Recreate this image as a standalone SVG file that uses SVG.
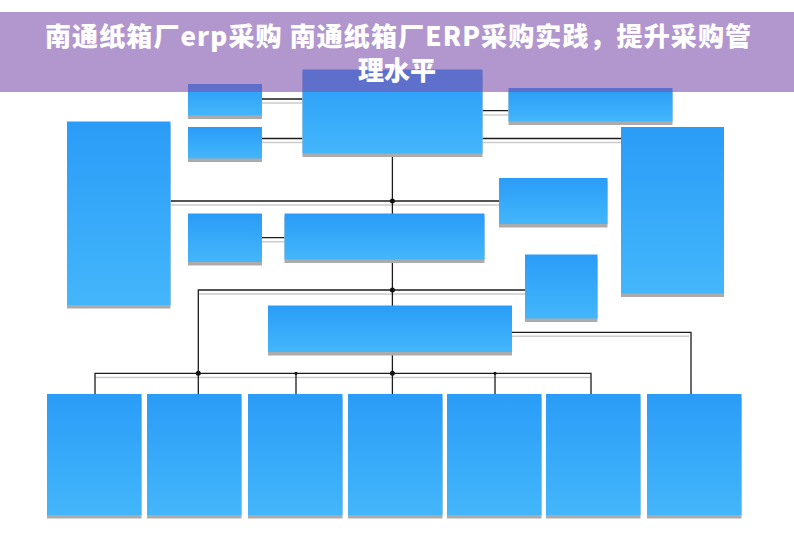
<svg xmlns="http://www.w3.org/2000/svg" width="794" height="559" viewBox="0 0 794 559">
<defs>
<linearGradient id="g" x1="0" y1="0" x2="0" y2="1">
<stop offset="0" stop-color="#2a9cf7"/>
<stop offset="1" stop-color="#43b6fb"/>
</linearGradient>
<style>
.box{fill:url(#g)}
.sh{fill:#ababab}
.ln{fill:none;stroke:#1c1c1c;stroke-width:1.3}
.gl{fill:none;stroke:#cbcbcb;stroke-width:1.6}
.dot{fill:#111}
.title{font-family:"Noto Sans CJK SC","Noto Sans",sans-serif;font-weight:900;font-size:26px;fill:#ffffff;text-anchor:middle}
</style>
</defs>
<rect x="0" y="0" width="794" height="559" fill="#ffffff"/>
<g id="connectors">
<path class="gl" d="M262 103H302.5M262 142.5H302.5M482.5 115H508.5M482.5 142.5H621M170.5 205H499M199 294H525M262 241.7H284.5M512 336.3H689M95 377.5H591"/>
<path class="ln" d="M262 99H302.5M262 138.5H302.5M482.5 110.7H508.5M482.5 138.5H621M392.4 153.5V394M170.5 201H499M525 290H198.3V394M262 237.7H284.5M512 332.3H691V394M95 394V373.3H591V394M296 373.3V394M495 373.3V394"/>
<circle class="dot" cx="392.4" cy="201" r="2.5"/>
<circle class="dot" cx="392.4" cy="290" r="2.5"/>
<circle class="dot" cx="198.3" cy="373.3" r="2.5"/>
<circle class="dot" cx="392.4" cy="373.3" r="2.5"/>
<circle class="dot" cx="296" cy="373.3" r="1.6"/>
<circle class="dot" cx="495" cy="373.3" r="1.6"/>
</g>
<g id="n1"><rect class="sh" x="302.5" y="73" width="180" height="84"/><rect class="box" x="302.5" y="69.5" width="180" height="84"/></g>
<g id="n2"><rect class="sh" x="188" y="87.5" width="74" height="31.5"/><rect class="box" x="188" y="84" width="74" height="31.5"/></g>
<g id="n3"><rect class="sh" x="188" y="130.5" width="74" height="31.5"/><rect class="box" x="188" y="127" width="74" height="31.5"/></g>
<g id="n4"><rect class="sh" x="508.5" y="91.5" width="164" height="33.5"/><rect class="box" x="508.5" y="88" width="164" height="33.5"/></g>
<g id="n5"><rect class="sh" x="67" y="125" width="103.5" height="183.5"/><rect class="box" x="67" y="121.5" width="103.5" height="183.5"/></g>
<g id="n6"><rect class="sh" x="621" y="130.5" width="103" height="166.5"/><rect class="box" x="621" y="127" width="103" height="166.5"/></g>
<g id="n7"><rect class="sh" x="499" y="181.5" width="108.5" height="46"/><rect class="box" x="499" y="178" width="108.5" height="46"/></g>
<g id="n8"><rect class="sh" x="188" y="217" width="74" height="48.5"/><rect class="box" x="188" y="213.5" width="74" height="48.5"/></g>
<g id="n9"><rect class="sh" x="284.5" y="217" width="200" height="46"/><rect class="box" x="284.5" y="213.5" width="200" height="46"/></g>
<g id="n10"><rect class="sh" x="525" y="258" width="72.5" height="64"/><rect class="box" x="525" y="254.5" width="72.5" height="64"/></g>
<g id="n11"><rect class="sh" x="268" y="309" width="244" height="46.5"/><rect class="box" x="268" y="305.5" width="244" height="46.5"/></g>
<g id="b1"><rect class="sh" x="47" y="397.5" width="94.5" height="121"/><rect class="box" x="47" y="394" width="94.5" height="121"/></g>
<g id="b2"><rect class="sh" x="147" y="397.5" width="94.5" height="121"/><rect class="box" x="147" y="394" width="94.5" height="121"/></g>
<g id="b3"><rect class="sh" x="248" y="397.5" width="94.5" height="121"/><rect class="box" x="248" y="394" width="94.5" height="121"/></g>
<g id="b4"><rect class="sh" x="348" y="397.5" width="94.5" height="121"/><rect class="box" x="348" y="394" width="94.5" height="121"/></g>
<g id="b5"><rect class="sh" x="447" y="397.5" width="94.5" height="121"/><rect class="box" x="447" y="394" width="94.5" height="121"/></g>
<g id="b6"><rect class="sh" x="546" y="397.5" width="94.5" height="121"/><rect class="box" x="546" y="394" width="94.5" height="121"/></g>
<g id="b7"><rect class="sh" x="647" y="397.5" width="94.5" height="121"/><rect class="box" x="647" y="394" width="94.5" height="121"/></g>
<g id="banner">
<rect x="0" y="12" width="794" height="80" fill="#7e50ad" fill-opacity="0.6"/>
<text class="title" x="398" y="46" textLength="706" lengthAdjust="spacing">南通纸箱厂erp采购 南通纸箱厂ERP采购实践，提升采购管</text>
<text class="title" x="397" y="80">理水平</text>
</g>
</svg>
